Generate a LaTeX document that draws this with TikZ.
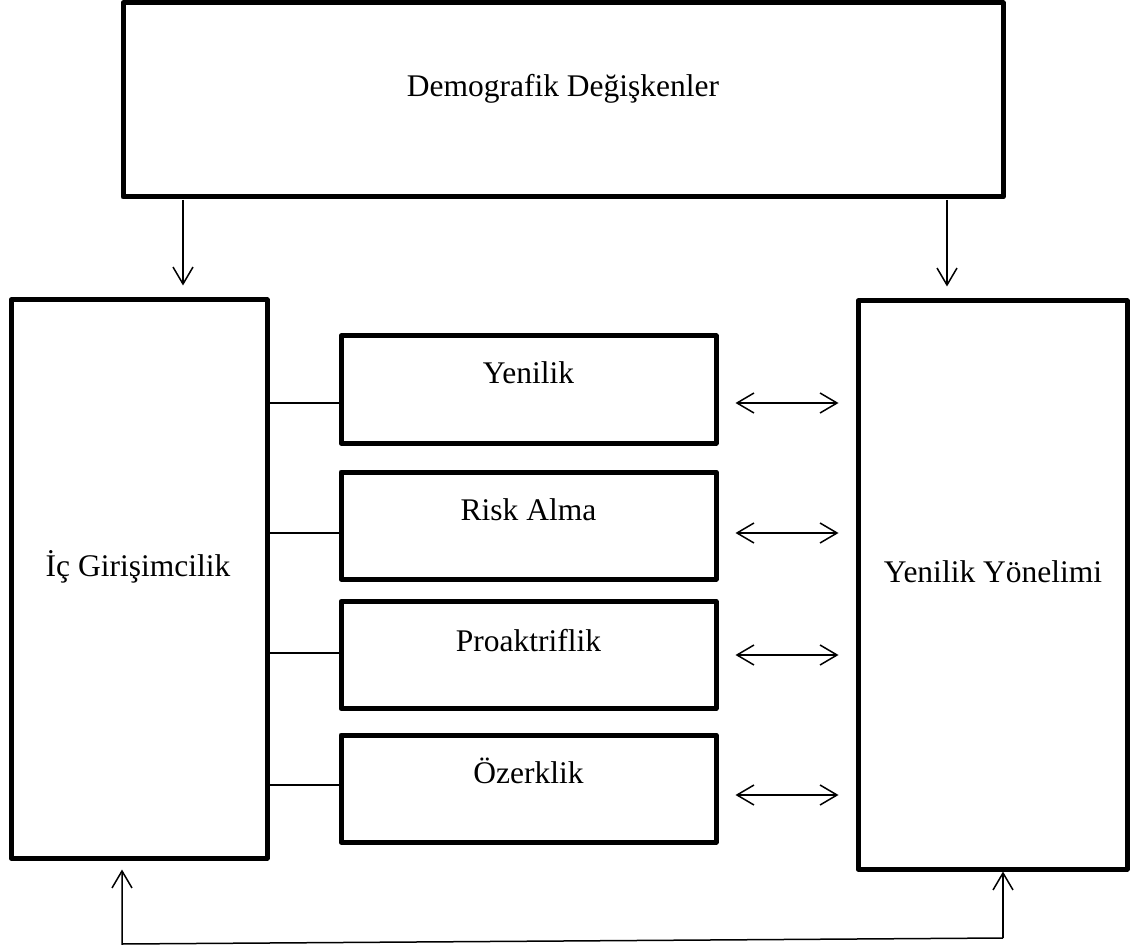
\documentclass[tikz,border=0pt]{standalone}
\usepackage{fontspec}
\setmainfont{Liberation Serif}
\usetikzlibrary{arrows.meta}
\begin{document}
\begin{tikzpicture}[x=1pt,y=-1pt,
  box/.style={draw, line width=5pt, line join=round, rectangle, inner sep=0pt},
  lbl/.style={anchor=base, inner sep=0pt, font=\fontsize{31.5}{38}\selectfont},
  thin/.style={line width=1.5pt},
  arr/.style={thin, -{Straight Barb[length=17pt,width=20pt,line width=1.5pt]}},
  dbl/.style={thin, {Straight Barb[length=17pt,width=20pt,line width=1.5pt]}-{Straight Barb[length=17pt,width=20pt,line width=1.5pt]}}]
\useasboundingbox (0,0) rectangle (1143,949);
% boxes
\node[box, minimum width=880pt, minimum height=194pt] (demo) at (563,100) {};
\node[box, minimum width=256pt, minimum height=558pt] (ic) at (139,579) {};
\node[box, minimum width=269pt, minimum height=568pt] (yon) at (992.5,585) {};
\node[box, minimum width=375pt, minimum height=107pt] (yen) at (528.5,389.5) {};
\node[box, minimum width=375pt, minimum height=107pt] (risk) at (528.5,525.5) {};
\node[box, minimum width=375pt, minimum height=107pt] (pro) at (528.5,655) {};
\node[box, minimum width=375pt, minimum height=107pt] (oz) at (528.5,788.5) {};
% texts
\node[lbl] (tdemo) at (563,97) {Demografik Değişkenler};
\node[lbl] (tic) at (138,576) {İç Girişimcilik};
\node[lbl] (tyon) at (993,582) {Yenilik Yönelimi};
\node[lbl] (tyen) at (528.5,384) {Yenilik};
\node[lbl] (trisk) at (528.5,520) {Risk Alma};
\node[lbl] (tpro) at (528.5,651) {Proaktriflik};
\node[lbl] (toz) at (528.5,783) {Özerklik};
% top arrows
\coordinate (a1) at (183,200);
\coordinate (a2) at (947,200);
\draw[arr, shorten >=12pt] (a1) -- (a1 |- ic.north);
\draw[arr, shorten >=12pt] (a2) -- (a2 |- yon.north);
% connectors left
\draw[thin] ([yshift=-13.5pt]yen.west -| ic.east) -- ([yshift=-13.5pt]yen.west);
\draw[thin] ([yshift=-7.5pt]risk.west -| ic.east) -- ([yshift=-7.5pt]risk.west);
\draw[thin] ([yshift=2pt]pro.west -| ic.east) -- ([yshift=2pt]pro.west);
\draw[thin] ([yshift=3.5pt]oz.west -| ic.east) -- ([yshift=3.5pt]oz.west);
% double arrows
\draw[dbl, shorten <=17pt, shorten >=17pt] ([yshift=-13.5pt]yen.east) -- ([yshift=-13.5pt]yen.east -| yon.west);
\draw[dbl, shorten <=17pt, shorten >=17pt] ([yshift=-7.5pt]risk.east) -- ([yshift=-7.5pt]risk.east -| yon.west);
\draw[dbl, shorten <=17pt, shorten >=17pt] (pro.east) -- (pro.east -| yon.west);
\draw[dbl, shorten <=17pt, shorten >=17pt] ([yshift=-6.5pt]oz.east) -- ([yshift=-6.5pt]oz.east -| yon.west);
% bottom feedback
\coordinate (b1) at (122,944);
\coordinate (b2) at (1003,938);
\draw[arr, shorten >=9pt] (b2) -- (b1) -- (b1 |- ic.south);
\draw[arr] (b2) -- (b2 |- yon.south);
\end{tikzpicture}
\end{document}
